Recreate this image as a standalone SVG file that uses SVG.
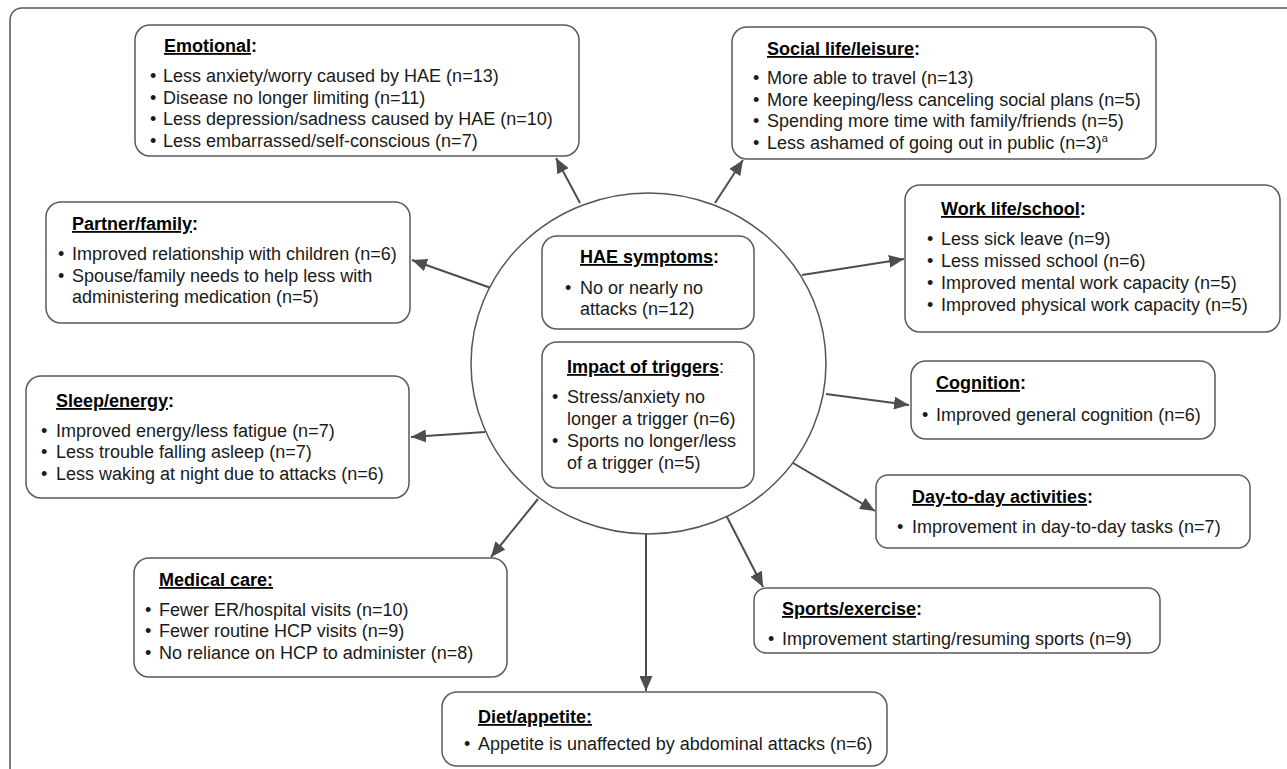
<svg xmlns="http://www.w3.org/2000/svg" width="1287" height="769" viewBox="0 0 1287 769">
<defs>
<style>
text{font-family:"Liberation Sans",Arial,Helvetica,sans-serif;font-size:18px;fill:#1a1a1a}
.t{font-weight:bold;fill:#000}
.u{text-decoration:underline}
.n{font-weight:normal}
.box{fill:#fff;stroke:#5a5a5a;stroke-width:1.5}
.frame{fill:#fff;stroke:#555;stroke-width:1.5}
.circ{fill:#fff;stroke:#555;stroke-width:1.5}
.arr{stroke:#4d4d4d;stroke-width:2;fill:none;marker-end:url(#ah)}
</style>
<marker id="ah" markerUnits="userSpaceOnUse" markerWidth="16" markerHeight="13" refX="15" refY="6.5" orient="auto">
<path d="M0,0 L15,6.5 L0,13 z" fill="#4d4d4d"/>
</marker>
</defs>
<rect x="0" y="0" width="1287" height="769" fill="#fff"/>
<rect class="frame" x="10" y="8" width="1320" height="820" rx="12"/>

<g id="connectors">
<line class="arr" x1="580" y1="203" x2="556" y2="158"/>
<line class="arr" x1="715" y1="203" x2="743" y2="160"/>
<line class="arr" x1="491" y1="288" x2="412" y2="260"/>
<line class="arr" x1="802" y1="275" x2="904" y2="259"/>
<line class="arr" x1="485" y1="432" x2="411" y2="437"/>
<line class="arr" x1="826" y1="394" x2="909" y2="405"/>
<line class="arr" x1="793" y1="463" x2="875" y2="511"/>
<line class="arr" x1="538" y1="499" x2="491" y2="557"/>
<line class="arr" x1="646" y1="533" x2="646" y2="691"/>
<line class="arr" x1="726" y1="515" x2="763" y2="587"/>
</g>

<g id="center">
<ellipse class="circ" cx="648.5" cy="363.5" rx="177.5" ry="170.5"/>
</g>

<g id="hae">
<rect class="box" x="542" y="236" width="212" height="93" rx="15"/>
<text class="t" x="580" y="263"><tspan class="u">HAE symptoms</tspan>:</text>
<text x="565" y="294">•</text>
<text x="580" y="294">No or nearly no</text>
<text x="580" y="315">attacks (n=12)</text>
</g>

<g id="triggers">
<rect class="box" x="542" y="342" width="212" height="146" rx="15"/>
<text class="t" x="567" y="373"><tspan class="u">Impact of triggers</tspan><tspan class="n">:</tspan></text>
<text x="552" y="403">•</text>
<text x="567" y="403">Stress/anxiety no</text>
<text x="567" y="425">longer a trigger (n=6)</text>
<text x="552" y="447">•</text>
<text x="567" y="447">Sports no longer/less</text>
<text x="567" y="469">of a trigger (n=5)</text>
</g>

<g id="emotional">
<rect class="box" x="135" y="25" width="444" height="131" rx="15"/>
<text class="t" x="164" y="52"><tspan class="u">Emotional</tspan>:</text>
<text x="150" y="82">•</text><text x="163" y="82">Less anxiety/worry caused by HAE (n=13)</text>
<text x="150" y="103.5">•</text><text x="163" y="103.5">Disease no longer limiting (n=11)</text>
<text x="150" y="125">•</text><text x="163" y="125">Less depression/sadness caused by HAE (n=10)</text>
<text x="150" y="146.5">•</text><text x="163" y="146.5">Less embarrassed/self-conscious (n=7)</text>
</g>

<g id="social">
<rect class="box" x="732" y="27" width="424" height="132" rx="15"/>
<text class="t" x="767" y="55"><tspan class="u">Social life/leisure</tspan>:</text>
<text x="753" y="84">•</text><text x="767" y="84">More able to travel (n=13)</text>
<text x="753" y="105.5">•</text><text x="767" y="105.5">More keeping/less canceling social plans (n=5)</text>
<text x="753" y="127">•</text><text x="767" y="127">Spending more time with family/friends (n=5)</text>
<text x="753" y="148.5">•</text><text x="767" y="148.5">Less ashamed of going out in public (n=3)<tspan font-size="11" dy="-7">a</tspan></text>
</g>

<g id="partner">
<rect class="box" x="46" y="202" width="364" height="121" rx="15"/>
<text class="t" x="72" y="230"><tspan class="u">Partner/family</tspan>:</text>
<text x="58" y="260">•</text><text x="72" y="260">Improved relationship with children (n=6)</text>
<text x="58" y="282">•</text><text x="72" y="282">Spouse/family needs to help less with</text>
<text x="72" y="303">administering medication (n=5)</text>
</g>

<g id="work">
<rect class="box" x="905" y="185" width="375" height="147" rx="15"/>
<text class="t" x="941" y="215"><tspan class="u">Work life/school</tspan>:</text>
<text x="927" y="245">•</text><text x="941" y="245">Less sick leave (n=9)</text>
<text x="927" y="267">•</text><text x="941" y="267">Less missed school (n=6)</text>
<text x="927" y="289">•</text><text x="941" y="289">Improved mental work capacity (n=5)</text>
<text x="927" y="311">•</text><text x="941" y="311">Improved physical work capacity (n=5)</text>
</g>

<g id="sleep">
<rect class="box" x="26" y="376" width="383" height="122" rx="15"/>
<text class="t" x="56" y="407"><tspan class="u">Sleep/energy</tspan>:</text>
<text x="41" y="437">•</text><text x="56" y="437">Improved energy/less fatigue (n=7)</text>
<text x="41" y="458">•</text><text x="56" y="458">Less trouble falling asleep (n=7)</text>
<text x="41" y="480">•</text><text x="56" y="480">Less waking at night due to attacks (n=6)</text>
</g>

<g id="cognition">
<rect class="box" x="911" y="361" width="304" height="78" rx="15"/>
<text class="t" x="936" y="389"><tspan class="u">Cognition</tspan>:</text>
<text x="922" y="421">•</text><text x="936" y="421">Improved general cognition (n=6)</text>
</g>

<g id="daytoday">
<rect class="box" x="876" y="475" width="374" height="73" rx="12"/>
<text class="t" x="912" y="503"><tspan class="u">Day-to-day activities</tspan>:</text>
<text x="897" y="533">•</text><text x="912" y="533">Improvement in day-to-day tasks (n=7)</text>
</g>

<g id="medical">
<rect class="box" x="134" y="558" width="373" height="119" rx="15"/>
<text class="t u" x="159" y="586">Medical care:</text>
<text x="145" y="616">•</text><text x="159" y="616">Fewer ER/hospital visits (n=10)</text>
<text x="145" y="637">•</text><text x="159" y="637">Fewer routine HCP visits (n=9)</text>
<text x="145" y="659">•</text><text x="159" y="659">No reliance on HCP to administer (n=8)</text>
</g>

<g id="sports">
<rect class="box" x="754" y="588" width="406" height="65" rx="12"/>
<text class="t" x="782" y="615"><tspan class="u">Sports/exercise</tspan>:</text>
<text x="768" y="645">•</text><text x="782" y="645">Improvement starting/resuming sports (n=9)</text>
</g>

<g id="diet">
<rect class="box" x="442" y="692" width="445" height="74" rx="15"/>
<text class="t u" x="478" y="723">Diet/appetite:</text>
<text x="464" y="750">•</text><text x="478" y="750">Appetite is unaffected by abdominal attacks (n=6)</text>
</g>
</svg>
